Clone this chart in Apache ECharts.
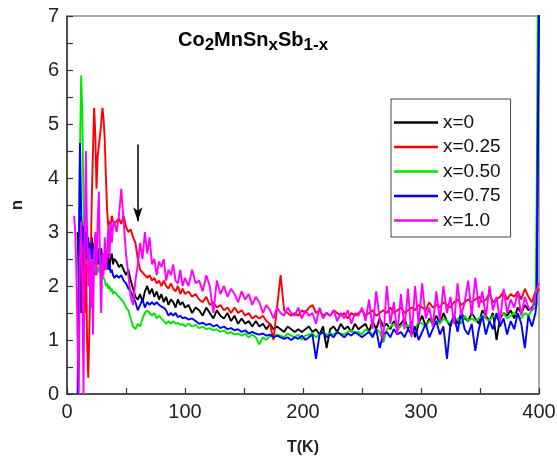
<!DOCTYPE html>
<html>
<head>
<meta charset="utf-8">
<script src="https://cdn.jsdelivr.net/npm/echarts@6/dist/echarts.min.js"></script>
<style>
html,body{margin:0;padding:0;background:#fff;}
#c{width:557px;height:463px;}
</style>
</head>
<body>
<div id="c"></div>
<script>
// Temperature grid (K)
var temps = [
6,7,8,9,10,11,12,13,14,15,16,17,18,19,20,21,22,23,24,25,26,27,28,29,30,31,32,33,34,35,36,37,38,39,40,
42,44,46,48,50,52,54,56,58,60,62,64,66,68,70,72,74,76,78,80,82,84,86,88,90,92,94,96,98,100,
103,106,109,112,115,118,121,124,127,130,
133,136,139,142,145,148,151,154,157,160,
163,166,169,172,175,178,181,184,187,190,
193,196,199,202,205,208,211,214,217,220,
223,226,229,232,235,238,241,244,247,250,
253,256,259,262,265,268,271,274,277,280,
283,286,289,292,295,298,301,304,307,310,
313,316,319,322,325,328,331,334,337,340,
343,346,349,352,355,358,361,364,367,370,
373,376,379,382,385,388,391,394,397,
398,399,400
];
var seriesNames = ['x=0','x=0.25','x=0.50','x=0.75','x=1.0'];
var xTicks = [0,100,200,300,400];
var yTicks = [0,1,2,3,4,5,6,7];

var n_x0 = [
null,null,null,3.0,2.2,3.3,1.5,2.9,1.6,2.8,1.9,3.1,2.2,2.7,2.0,2.9,2.3,2.8,2.2,2.7,2.4,2.6,2.3,2.7,2.4,2.6,2.3,2.5,2.4,2.6,2.35,2.55,2.6,2.4,2.5,
2.45,2.35,2.4,2.3,2.2,2.3,2.1,1.95,1.8,1.75,1.85,1.7,1.9,2.0,1.85,1.95,1.8,1.9,1.75,1.85,1.7,1.8,1.65,1.75,1.7,1.6,1.75,1.65,1.7,1.6,
1.65,1.5,1.6,1.55,1.45,1.6,1.5,1.4,1.55,1.45,
1.4,1.5,1.35,1.45,1.3,1.4,1.3,1.35,1.25,1.35,
1.25,1.3,1.2,1.3,1.2,1.25,1.2,1.15,1.25,1.2,
1.15,1.2,1.15,1.2,1.25,1.15,1.2,1.1,1.25,0.85,
1.2,1.25,1.15,1.3,1.2,1.25,1.15,1.3,1.2,1.25,
1.3,1.15,1.35,1.2,1.4,1.25,1.3,1.2,1.35,1.25,
1.3,1.4,1.2,1.35,1.05,1.3,1.45,1.25,1.4,1.3,
1.45,1.3,1.5,1.35,1.25,1.45,1.3,1.5,1.4,1.35,
1.5,1.4,1.3,1.55,1.45,1.35,1.5,1.0,1.4,1.5,
1.45,1.55,1.4,1.6,1.5,1.65,1.55,1.6,1.7,
2.0,4.5,7.5
];
var n_x025 = [
null,null,null,null,null,null,null,2.6,3.2,1.5,2.8,1.0,0.3,1.2,2.4,3.6,4.5,5.3,4.8,3.8,4.4,4.6,4.8,5.0,5.3,5.1,4.7,4.0,3.4,3.1,3.2,3.15,3.3,3.2,3.15,
3.2,3.25,3.15,3.3,3.1,3.0,3.05,2.9,2.8,2.5,2.3,2.25,2.2,2.15,2.2,2.1,2.15,2.05,2.1,2.0,2.1,2.0,1.95,2.05,1.95,1.9,2.0,1.85,1.95,1.85,
1.9,1.8,1.85,1.75,1.7,1.8,1.65,1.7,1.6,1.65,
1.55,1.6,1.5,1.6,1.5,1.55,1.45,1.5,1.4,1.45,
1.4,1.45,1.35,1.3,1.0,1.6,2.2,1.55,1.5,1.45,
1.5,1.45,1.55,1.5,1.6,1.65,1.5,1.55,1.45,1.5,
1.45,1.55,1.5,1.45,1.5,1.4,1.5,1.45,1.5,1.55,
1.45,1.5,1.55,1.45,1.5,1.55,1.5,1.6,1.5,1.55,
1.6,1.5,1.55,1.6,1.55,1.65,1.6,1.55,1.7,1.6,
1.65,1.6,1.7,1.65,1.6,1.7,1.75,1.65,1.7,1.75,
1.7,1.75,1.8,1.7,1.75,1.85,1.7,1.75,1.8,1.9,
1.75,1.85,1.8,1.9,1.75,1.95,1.8,1.7,1.9,
1.85,1.9,1.95
];
var n_x050 = [
null,null,null,null,2.8,4.5,5.9,5.2,3.5,2.8,3.1,2.4,2.7,2.3,2.6,2.2,2.5,2.3,2.4,2.2,2.35,2.25,2.4,2.2,2.3,2.15,2.1,2.0,2.05,1.95,2.0,1.9,1.95,1.85,1.9,
1.85,1.8,1.75,1.7,1.6,1.55,1.4,1.25,1.2,1.3,1.25,1.4,1.5,1.55,1.5,1.45,1.5,1.4,1.45,1.4,1.35,1.3,1.35,1.3,1.35,1.3,1.32,1.28,1.3,1.25,
1.3,1.25,1.28,1.22,1.25,1.2,1.22,1.18,1.2,1.15,
1.18,1.12,1.15,1.1,1.12,1.08,1.12,1.05,1.1,1.05,
0.92,1.05,1.0,1.08,1.05,1.1,1.08,1.05,1.12,1.08,
1.05,1.1,1.0,1.08,1.1,1.12,1.05,1.1,1.15,1.1,
1.12,1.1,1.15,1.12,1.1,1.15,1.18,1.12,1.15,1.1,
1.2,1.15,1.1,1.2,1.15,0.95,1.2,1.25,1.3,1.2,
1.25,1.3,1.25,1.3,1.2,1.35,1.3,1.25,1.35,1.3,
1.35,1.3,1.4,1.35,1.3,1.35,1.4,1.3,1.45,1.35,
1.4,1.35,1.4,1.45,1.4,1.35,1.45,1.4,1.45,1.5,
1.4,1.45,1.5,1.45,1.4,1.5,1.45,1.55,1.6,
3.5,7.5,7.5
];
var n_x075 = [
null,null,null,0.0,2.5,4.65,3.4,2.8,3.1,2.6,3.0,2.5,2.9,2.6,2.8,2.5,2.7,2.4,2.6,2.5,2.7,2.45,2.6,2.4,2.55,2.4,2.5,2.35,2.45,2.3,2.4,2.25,2.3,2.2,2.15,
2.2,2.15,2.2,2.1,2.05,1.95,1.9,1.8,1.7,1.55,1.65,1.75,1.6,1.7,1.65,1.7,1.65,1.7,1.65,1.62,1.6,1.55,1.45,1.5,1.45,1.5,1.42,1.45,1.4,1.42,
1.38,1.4,1.35,1.3,1.32,1.28,1.3,1.25,1.28,1.22,
1.25,1.2,1.22,1.18,1.2,1.15,1.18,1.12,1.15,1.12,
1.1,1.12,1.08,1.1,1.05,1.08,1.05,1.02,1.05,1.0,
1.05,1.02,1.08,1.0,1.05,1.1,0.65,1.1,1.15,1.05,
1.1,1.05,1.15,1.1,1.05,1.12,1.08,1.15,1.1,1.05,
1.1,1.15,1.05,1.2,0.85,1.1,1.15,1.05,1.2,1.1,
1.15,1.05,1.2,1.1,1.25,1.0,1.15,1.3,1.05,1.2,
1.35,1.1,1.25,0.65,1.3,1.45,1.15,1.5,1.2,1.1,
1.3,0.8,1.2,1.45,1.1,1.35,1.2,1.5,1.25,1.4,
1.1,1.35,1.2,1.5,1.3,0.85,1.45,1.25,1.5,
1.7,5.0,7.5
];
var n_x10 = [
3.3,3.0,2.2,1.0,0.0,2.5,3.2,2.0,0.0,2.8,4.5,3.0,2.0,2.7,1.6,2.5,1.1,2.6,3.0,2.2,3.2,3.75,2.4,1.5,2.6,2.2,2.9,2.3,2.6,3.1,2.5,3.2,2.8,3.1,3.2,
3.0,3.3,3.8,3.2,2.6,2.2,1.8,1.65,2.1,2.4,2.8,2.5,3.0,2.6,2.9,2.4,2.5,2.2,2.45,2.35,2.5,2.1,2.3,2.2,2.4,2.1,2.05,2.3,2.0,2.15,
2.0,2.3,2.05,2.1,1.9,2.2,2.0,1.5,2.1,1.85,
2.0,1.8,1.95,1.85,1.7,1.9,1.75,1.85,1.65,1.8,
1.7,1.5,1.65,1.55,1.4,1.6,1.5,1.45,1.6,1.5,
1.45,1.6,1.4,1.55,1.45,1.5,1.3,1.6,1.4,1.5,
1.45,1.55,1.35,1.5,1.4,1.55,1.3,1.5,1.45,1.6,
1.35,1.75,1.2,1.9,1.4,1.0,2.0,1.3,1.7,1.1,
1.85,1.2,1.95,1.05,2.0,1.3,2.05,1.4,1.6,1.25,
1.9,1.35,2.0,1.5,1.8,1.3,2.05,1.45,1.7,2.1,
1.45,2.15,1.6,1.9,1.4,2.0,1.55,1.8,1.35,1.95,
1.5,1.75,1.6,1.9,1.45,1.8,1.6,1.55,1.85,
1.9,2.0,2.05
];
var colors = ['#000000','#ff0000','#00e600','#0000ff','#ff00ff'];
var allVals = [n_x0, n_x025, n_x050, n_x075, n_x10];

function pairs(v){
  return temps.map(function(t,i){ return [t, v[i]==null ? '-' : v[i]]; });
}

var chart = echarts.init(document.getElementById('c'));
var series = allVals.map(function(v,k){
  var s = {
    name: seriesNames[k], type:'line', data: pairs(v), showSymbol:false, symbol:'none',
    lineStyle:{color:colors[k], width:1.9}, itemStyle:{color:colors[k]},
    clip:true, animation:false, z: 2+k
  };
  if(k===0){
    s.markLine = {
      silent:true, symbol:['none','arrow'], symbolSize:[7,14],
      label:{show:false},
      lineStyle:{color:'#000', width:1.5, type:'solid'},
      data:[[{coord:[60,4.62]},{coord:[60,3.2]}]]
    };
  }
  return s;
});

var font = 'Liberation Sans, Arial, sans-serif';
chart.setOption({
  animation:false,
  backgroundColor:'#fff',
  grid:{left:67, right:18, top:16, bottom:69, show:true, borderColor:'#555', borderWidth:1, containLabel:false, outerBoundsMode:'none'},
  xAxis:{
    type:'value', min:0, max:400, interval:100,
    name:'T(K)', nameLocation:'middle', nameGap:46,
    nameTextStyle:{fontFamily:font, fontWeight:'bold', fontSize:16, color:'#222'},
    axisLine:{show:true, onZero:false, lineStyle:{color:'#333', width:1.5}},
    axisTick:{show:true, inside:true, length:6, lineStyle:{color:'#333', width:1.2}},
    minorTick:{show:true, splitNumber:2, length:6, lineStyle:{color:'#333', width:1.2}},
    splitLine:{show:false},
    axisLabel:{fontFamily:font, fontSize:20, color:'#222', margin:8,
      formatter:function(v){ return xTicks.indexOf(v)>=0 ? String(v) : ''; }}
  },
  yAxis:{
    type:'value', min:0, max:7, interval:1,
    name:'n', nameLocation:'middle', nameGap:41, nameRotate:90,
    nameTextStyle:{fontFamily:font, fontWeight:'bold', fontSize:17, color:'#222'},
    axisLine:{show:true, onZero:false, lineStyle:{color:'#333', width:1.5}},
    axisTick:{show:true, inside:true, length:6, lineStyle:{color:'#333', width:1.2}},
    minorTick:{show:true, splitNumber:2, length:6, lineStyle:{color:'#333', width:1.2}},
    splitLine:{show:false},
    axisLabel:{fontFamily:font, fontSize:20, color:'#222', margin:8,
      formatter:function(v){ return yTicks.indexOf(v)>=0 ? String(v) : ''; }}
  },
  legend:{
    orient:'vertical', left:391, top:99,
    backgroundColor:'#fff', borderColor:'#444', borderWidth:1,
    padding:[14,10,7,3], itemGap:5.5,
    itemWidth:44, itemHeight:2.5, icon:'rect',
    textStyle:{fontFamily:font, fontSize:19, color:'#111', lineHeight:17},
    data: seriesNames
  },
  graphic:[{
    type:'text', left:178, top:28, z:10,
    style:{
      text:'{m|Co}{s|2}{m|MnSn}{s|x}{m|Sb}{s|1-x}',
      rich:{
        m:{fontFamily:font, fontWeight:'bold', fontSize:20, color:'#111', verticalAlign:'top', lineHeight:24},
        s:{fontFamily:font, fontWeight:'bold', fontSize:17, color:'#111', verticalAlign:'bottom', lineHeight:24, padding:[9,0,0,0]}
      }
    }
  }],
  series: series
});
</script>
</body>
</html>
